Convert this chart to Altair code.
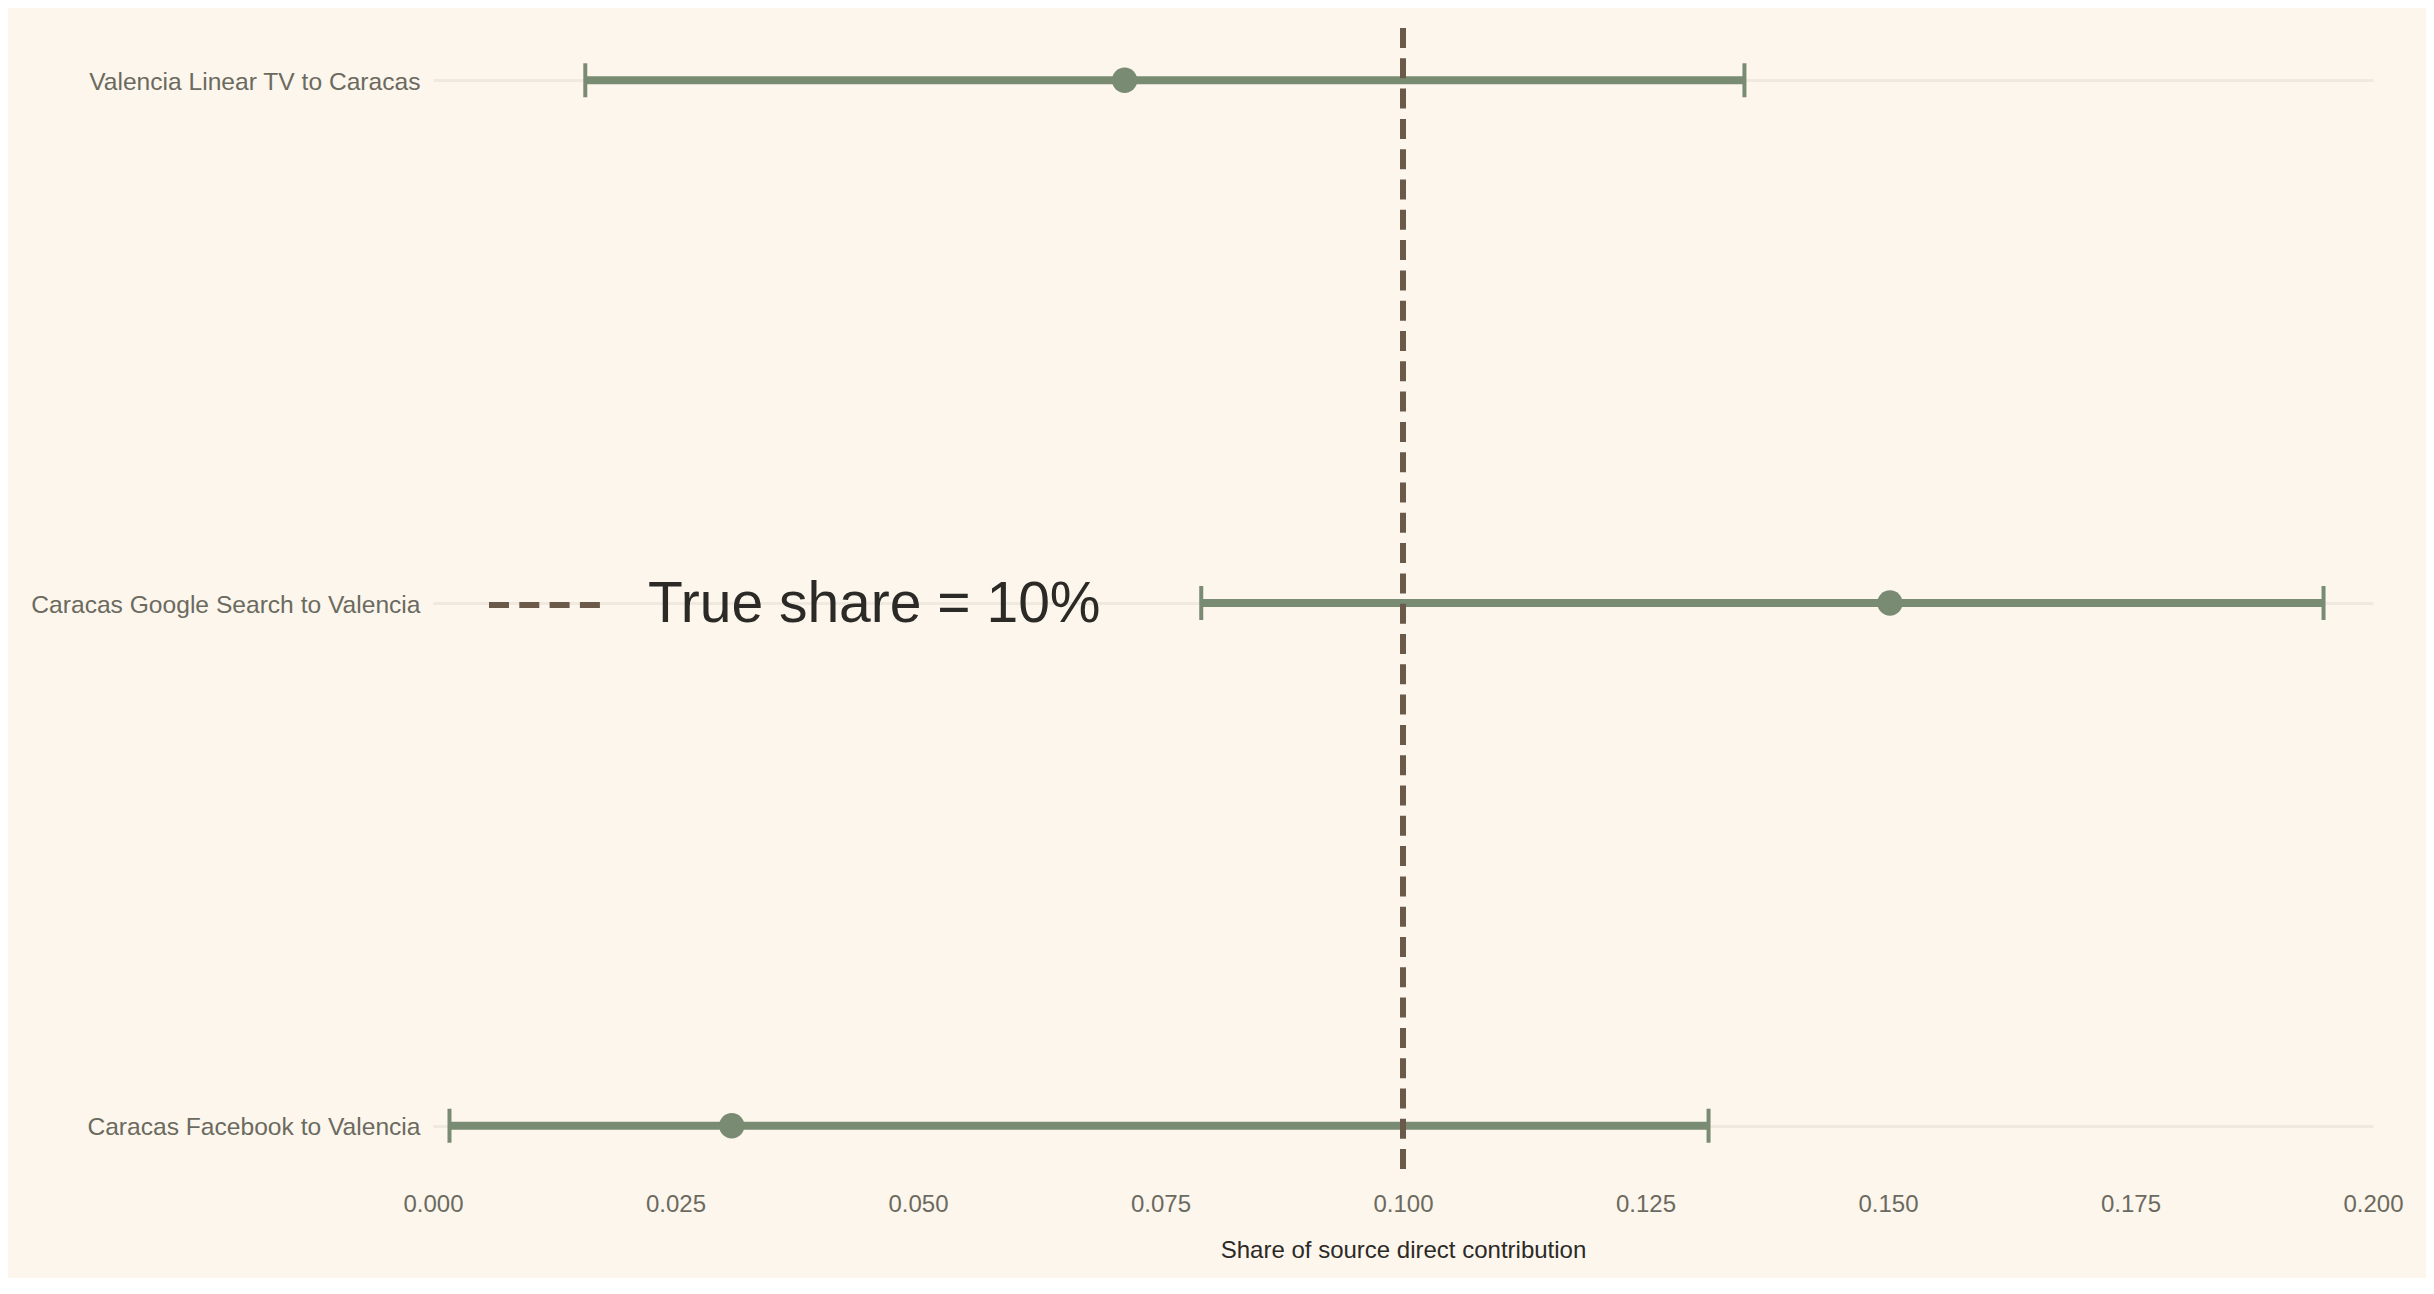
import altair as alt
import pandas as pd

# ---- data ----
categories = [
    "Valencia Linear TV to Caracas",
    "Caracas Google Search to Valencia",
    "Caracas Facebook to Valencia",
]
low = [0.0157, 0.0792, 0.0017]
estimate = [0.0713, 0.1502, 0.0308]
high = [0.1352, 0.1949, 0.1315]

true_share = [0.10]
true_label = ["True share = 10%"]
x_ticks = [0.0, 0.025, 0.05, 0.075, 0.1, 0.125, 0.15, 0.175, 0.2]

df = pd.DataFrame({"channel": categories, "low": low, "est": estimate, "high": high})
ref = pd.DataFrame({"share": true_share, "label": true_label})

GREEN = "#7A8B73"
BROWN = "#6B5A4A"
BG = "#FDF6EC"
TXT = "#6B6A60"
DARK = "#2B2A27"
FONT = "Liberation Sans"

y_enc = alt.Y(
    "channel:N",
    sort=categories,
    scale=alt.Scale(type="point", padding=0.1),
    axis=alt.Axis(
        title=None,
        grid=True,
        gridColor="#F0E9DF",
        gridWidth=3,
        domain=False,
        ticks=False,
        labelFontSize=24.6,
        labelColor=TXT,
        labelPadding=13,
        labelFont=FONT,
        labelLimit=0,
        labelOffset=2,
    ),
)
x_scale = alt.Scale(domain=[0, 0.2], nice=False, zero=False)
x_axis = alt.Axis(
    title="Share of source direct contribution",
    values=x_ticks,
    format=".3f",
    grid=False,
    domain=False,
    ticks=False,
    labelFontSize=24,
    labelColor=TXT,
    labelPadding=14,
    labelFont=FONT,
    labelFlush=False,
    labelOverlap=False,
    titleFontSize=24,
    titleColor=DARK,
    titleFontWeight="normal",
    titleFont=FONT,
    titlePadding=22,
)

base = alt.Chart(df)

bars = base.mark_rule(color=GREEN, strokeWidth=8).encode(
    x=alt.X("low:Q", scale=x_scale, axis=x_axis),
    x2="high:Q",
    y=y_enc,
)
cap_lo = base.mark_tick(color=GREEN, thickness=4, size=34, opacity=1).encode(
    x=alt.X("low:Q", scale=x_scale), y=alt.Y("channel:N", sort=categories)
)
cap_hi = base.mark_tick(color=GREEN, thickness=4, size=34, opacity=1).encode(
    x=alt.X("high:Q", scale=x_scale), y=alt.Y("channel:N", sort=categories)
)
points = base.mark_circle(color=GREEN, size=640, opacity=1).encode(
    x=alt.X("est:Q", scale=x_scale), y=alt.Y("channel:N", sort=categories)
)

vline = alt.Chart(ref).mark_rule(strokeWidth=6).encode(
    x=alt.X("share:Q", scale=x_scale),
    color=alt.Color(
        "label:N",
        scale=alt.Scale(range=[BROWN]),
        legend=alt.Legend(
            title=None,
            orient="none",
            legendX=53,
            legendY=515,
            symbolType="stroke",
            symbolSize=13924,
            symbolStrokeWidth=6,
            labelFontSize=57,
            labelColor=DARK,
            labelFont=FONT,
            labelOffset=38,
            labelLimit=0,
            padding=0,
        ),
    ),
    strokeDash=alt.StrokeDash(
        "label:N",
        scale=alt.Scale(range=[[20, 10.3]]),
        legend=None,
    ),
)

chart = (
    alt.layer(bars, cap_lo, cap_hi, points, vline)
    .properties(
        width=1940,
        height=1150,
        background=BG,
        autosize=alt.AutoSizeParams(type="none"),
        padding={"left": 425, "top": 20, "right": 53, "bottom": 100},
    )
    .configure_view(stroke=None)
)

chart.save("out.html", embed_options={"renderer": "svg", "actions": False})
